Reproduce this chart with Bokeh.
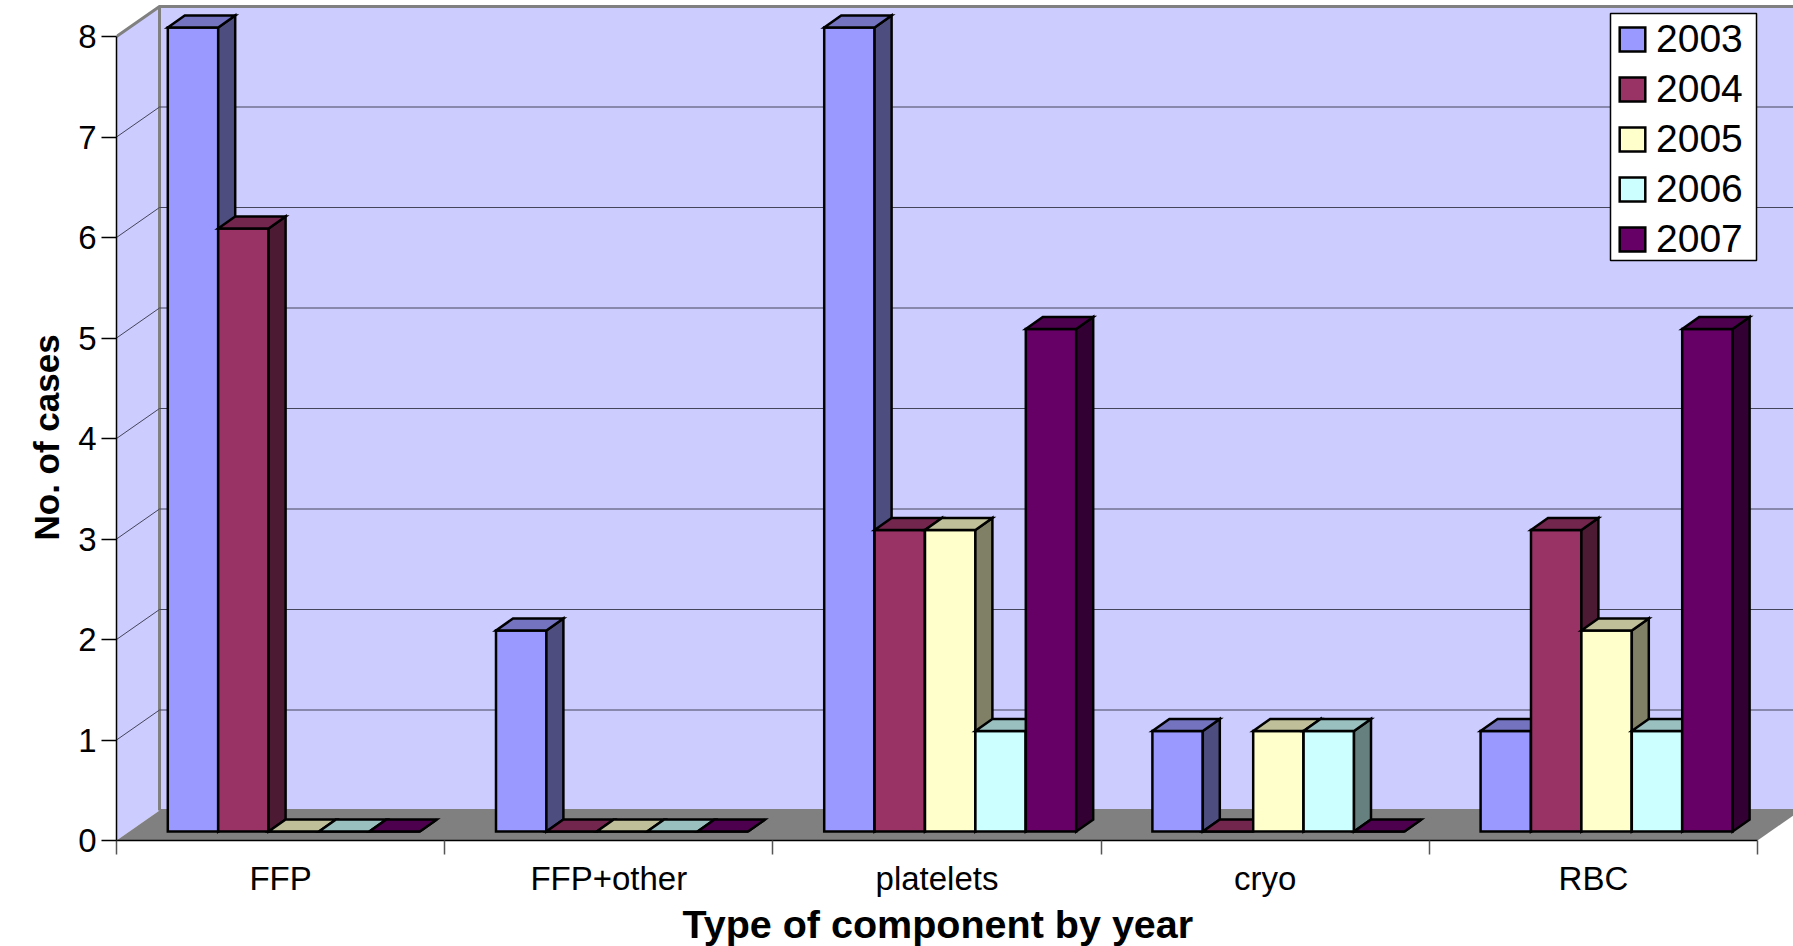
from bokeh.plotting import figure
from bokeh.models import Range1d, FixedTicker, Legend, LegendItem, ColumnDataSource, Title
from bokeh.embed import file_html
from bokeh.resources import INLINE

categories = ["FFP", "FFP+other", "platelets", "cryo", "RBC"]
years = ["2003", "2004", "2005", "2006", "2007"]
v2003 = [8, 2, 8, 1, 1]
v2004 = [6, 0, 3, 0, 3]
v2005 = [0, 0, 3, 1, 2]
v2006 = [0, 0, 1, 1, 1]
v2007 = [0, 0, 5, 0, 5]
series = [v2003, v2004, v2005, v2006, v2007]
front = ["#9999FF", "#993366", "#FFFFCC", "#CCFFFF", "#660066"]
top = ["#7373BF", "#73264D", "#BFBF99", "#99BFBF", "#4D004D"]
side = ["#4D4D80", "#4D1A33", "#808066", "#668080", "#330033"]
y_ticks = list(range(9))

# pixel scale of the axes: px per category, px per case
PXX, PXY = 328.2, 100.5
WALL_DX, WALL_DY = 43 / PXX, 30 / PXY
BAR_DX, BAR_DY = 17 / PXX, 12 / PXY
BAR_W = 50.4 / PXX
BAR_START = 51.3 / PXX
BAR_BASE = 9 / PXY
NC = len(categories)
NV = 8
FRAME_L, FRAME_B = 116, 840
W, H = 1793, 946

p = figure(width=W, height=H, output_backend="svg", toolbar_location=None,
           x_range=Range1d(0, (W - FRAME_L) / PXX), y_range=Range1d(0, FRAME_B / PXY),
           min_border_left=FRAME_L, min_border_right=0, min_border_top=0, min_border_bottom=H - FRAME_B)
p.grid.visible = False
p.outline_line_color = None
p.background_fill_color = "white"

# walls and floor
WALL = "#CCCCFF"
GREY = "#808080"
p.patch([WALL_DX, WALL_DX + NC + 1, WALL_DX + NC + 1, WALL_DX],
        [WALL_DY, WALL_DY, WALL_DY + NV, WALL_DY + NV], fill_color=WALL, line_color=GREY, line_width=3)
p.patch([0, WALL_DX, WALL_DX, 0], [0, WALL_DY, WALL_DY + NV, NV], fill_color=WALL, line_color=None)
p.line([0, WALL_DX, WALL_DX + NC + 1], [NV, WALL_DY + NV, WALL_DY + NV], line_color=GREY, line_width=3)
p.line([WALL_DX, WALL_DX], [WALL_DY, WALL_DY + NV], line_color=GREY, line_width=3)
p.patch([0, NC, NC + WALL_DX, WALL_DX], [0, 0, WALL_DY, WALL_DY], fill_color=GREY, line_color=None)
for v in y_ticks[1:-1]:
    p.line([0, WALL_DX, WALL_DX + NC + 1], [v, v + WALL_DY, v + WALL_DY], line_color="#44445A", line_width=1)

# white legend box, drawn behind the legend's own entries
p.quad(left=(1610 - FRAME_L) / PXX, right=(1756 - FRAME_L) / PXX,
       bottom=(FRAME_B - 260) / PXY, top=(FRAME_B - 13) / PXY,
       fill_color="white", line_color="black", line_width=1.5)

# bars: front, side and top faces of each bar
items = []
for s, vals in enumerate(series):
    xs, ys, fills = [], [], []
    for c, v in enumerate(vals):
        x0 = c + BAR_START + s * BAR_W
        x1 = x0 + BAR_W
        b = BAR_BASE
        t = b + v
        xs.append([x0, x1, x1, x0]); ys.append([b, b, t, t]); fills.append(front[s])
        xs.append([x1, x1 + BAR_DX, x1 + BAR_DX, x1]); ys.append([b, b + BAR_DY, t + BAR_DY, t]); fills.append(side[s])
        xs.append([x0, x1, x1 + BAR_DX, x0 + BAR_DX]); ys.append([t, t, t + BAR_DY, t + BAR_DY]); fills.append(top[s])
    src = ColumnDataSource(dict(xs=xs, ys=ys, fill=fills))
    r = p.patches("xs", "ys", source=src, fill_color="fill", line_color="black", line_width=2.5, line_join="miter")
    items.append(LegendItem(label=years[s], renderers=[r], index=0))

# axes
xa = p.xaxis[0]
xa.bounds = (0, NC)
xa.ticker = FixedTicker(ticks=[i + 0.5 for i in range(NC)], minor_ticks=list(range(NC + 1)))
xa.major_label_overrides = {i + 0.5: c for i, c in enumerate(categories)}
xa.major_tick_out = 0
xa.major_tick_in = 0
xa.minor_tick_out = 14
xa.minor_tick_in = 0
xa.minor_tick_line_color = "#555555"
xa.minor_tick_line_width = 1.5
xa.axis_line_color = "black"
xa.axis_line_width = 1.5
xa.major_label_text_font = "Liberation Sans"
xa.major_label_text_font_size = "33px"
xa.major_label_text_color = "black"
xa.major_label_standoff = 5

ya = p.yaxis[0]
ya.bounds = (0, NV)
ya.ticker = FixedTicker(ticks=y_ticks, minor_ticks=[])
ya.major_tick_out = 15
ya.major_tick_in = 0
ya.major_tick_line_color = "black"
ya.major_tick_line_width = 1.5
ya.axis_line_color = "black"
ya.axis_line_width = 1.5
ya.major_label_text_font = "Liberation Sans"
ya.major_label_text_font_size = "33px"
ya.major_label_text_color = "black"
ya.major_label_standoff = 5

# axis titles
p.add_layout(Title(text="Type of component by year", align="left", offset=566, standoff=1,
                   text_line_height=0.9,
                   text_font="Liberation Sans", text_font_style="bold", text_font_size="39.5px",
                   text_color="black"), "below")
p.add_layout(Title(text="No. of cases", align="left", offset=300, standoff=16, vertical_align="top",
                   text_line_height=1.4,
                   text_font="Liberation Sans", text_font_style="bold", text_font_size="35px",
                   text_color="black"), "left")

legend = Legend(items=items, location=(1500, 579), orientation="vertical",
                glyph_width=32, glyph_height=30, label_standoff=8, spacing=6,
                padding=3, margin=0, label_text_font="Liberation Sans",
                label_text_font_size="39px", label_text_color="black",
                border_line_color=None, background_fill_alpha=0)
p.add_layout(legend, "center")

open("out.html", "w").write(file_html(p, INLINE))
